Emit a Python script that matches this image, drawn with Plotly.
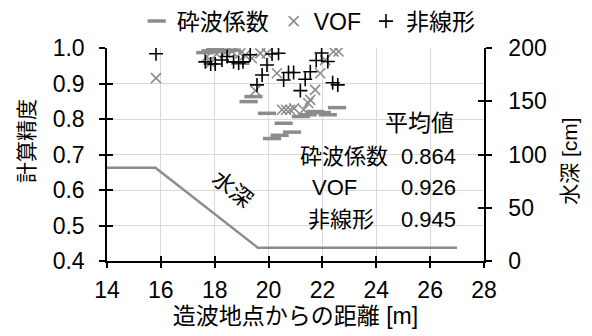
import plotly.graph_objects as go

# 計算精度の比較（造波地点からの距離ごと）
breaking_x = [17.65, 17.85, 18.02, 18.25, 18.45, 18.64, 18.95, 19.26, 19.44, 19.94,
              20.13, 20.41, 20.56, 20.87, 21.20, 21.45, 21.73, 21.98, 22.20, 22.54]
breaking_y = [0.987, 0.992, 0.996, 0.990, 0.992, 0.994, 0.957, 0.849, 0.863, 0.816,
              0.745, 0.754, 0.788, 0.763, 0.807, 0.812, 0.821, 0.818, 0.812, 0.832]

vof_x = [15.82, 17.71, 17.85, 18.08, 18.39, 18.64, 18.95, 19.13, 19.38, 19.51,
         19.69, 19.94, 20.31, 20.50, 20.65, 20.80, 20.95, 21.30, 21.47, 21.55,
         21.73, 21.92, 22.10, 22.41, 22.60]
vof_y = [0.915, 0.976, 0.958, 0.983, 0.987, 0.990, 0.985, 0.980, 0.971, 0.880,
         0.985, 0.985, 0.929, 0.826, 0.826, 0.826, 0.830, 0.826, 0.845, 0.854,
         0.882, 0.929, 0.966, 0.990, 0.990]

nonlinear_x = [15.82, 17.65, 17.85, 18.02, 18.27, 18.46, 18.70, 18.89, 19.05, 19.32,
               19.57, 19.76, 19.94, 20.13, 20.37, 20.56, 20.74, 20.93, 21.18, 21.36,
               21.55, 21.77, 21.97, 22.20, 22.38, 22.57]
nonlinear_y = [0.984, 0.961, 0.955, 0.955, 0.966, 0.976, 0.961, 0.958, 0.961, 0.981,
               0.896, 0.924, 0.952, 0.983, 0.985, 0.910, 0.931, 0.931, 0.880, 0.912,
               0.933, 0.965, 0.986, 0.962, 0.902, 0.896]

# 水深の断面
depth_x = [14.0, 15.8, 19.6, 27.0]
depth_cm = [87.5, 87.5, 12.5, 12.5]

series_names = ["砕波係数", "VOF", "非線形"]
mean_values = [0.864, 0.926, 0.945]

x_ticks = [14, 16, 18, 20, 22, 24, 26, 28]
y_ticks = [0.4, 0.5, 0.6, 0.7, 0.8, 0.9, 1.0]
y2_ticks = [0, 50, 100, 150, 200]

GRAY = "#8c8c8c"
FONT = "Liberation Sans, Arial, Noto Sans CJK JP, sans-serif"
FS = 23

fig = go.Figure()

fig.add_trace(go.Scatter(
    x=depth_x, y=depth_cm, mode="lines", yaxis="y2",
    line=dict(color=GRAY, width=2.5), showlegend=False, hoverinfo="skip"))

fig.add_trace(go.Scatter(
    x=breaking_x, y=breaking_y, mode="markers", name=series_names[0],
    marker=dict(symbol="line-ew", size=13, color=GRAY,
                line=dict(color=GRAY, width=3.5))))
fig.add_trace(go.Scatter(
    x=vof_x, y=vof_y, mode="markers", name=series_names[1],
    marker=dict(symbol="x-thin", size=10, color=GRAY,
                line=dict(color=GRAY, width=1.6))))
fig.add_trace(go.Scatter(
    x=nonlinear_x, y=nonlinear_y, mode="markers", name=series_names[2],
    marker=dict(symbol="cross-thin", size=10, color="black",
                line=dict(color="black", width=1.6))))

# inward tick marks, drawn by overlay axes so the ticks cross the axis lines
fig.add_trace(go.Scatter(x=[None], y=[None], xaxis="x3", yaxis="y3",
                         showlegend=False, hoverinfo="skip"))
fig.add_trace(go.Scatter(x=[None], y=[None], xaxis="x3", yaxis="y4",
                         showlegend=False, hoverinfo="skip"))

axis_common = dict(linecolor="black", linewidth=1.5, tickcolor="black",
                   tickwidth=1.5, tickfont=dict(family=FONT, size=FS, color="black"))

fig.update_layout(
    width=592, height=336,
    margin=dict(l=107, r=108, t=48, b=75, autoexpand=False),
    paper_bgcolor="white", plot_bgcolor="white",
    font=dict(family=FONT, size=FS, color="black"),
    xaxis=dict(range=[14, 28], tickvals=x_ticks, showline=True, ticks="outside",
               ticklen=5, ticklabelstandoff=3, showgrid=True, gridcolor="#d9d9d9",
               gridwidth=1, zeroline=False,
               title=dict(text="造波地点からの距離 [m]", font=dict(size=FS),
                          standoff=6),
               **axis_common),
    yaxis=dict(range=[0.4, 1.0], tickvals=y_ticks, tickformat=".1f", showline=True,
               ticks="outside", ticklen=6, ticklabelstandoff=10, showgrid=True,
               gridcolor="#d9d9d9", gridwidth=1, zeroline=False,
               **axis_common),
    yaxis2=dict(range=[0, 200], tickvals=y2_ticks, overlaying="y", side="right",
                showline=True, ticks="outside", ticklen=6, ticklabelstandoff=12,
                showgrid=False, zeroline=False,
                **axis_common),
    xaxis3=dict(range=[14, 28], tickvals=x_ticks, overlaying="x", anchor="y3",
                ticks="inside", ticklen=5, tickcolor="black", tickwidth=1.5,
                showticklabels=False, showgrid=False, zeroline=False, showline=False),
    yaxis3=dict(range=[0.4, 1.0], tickvals=y_ticks, overlaying="y", anchor="x3",
                side="left", ticks="inside", ticklen=6, tickcolor="black",
                tickwidth=1.5, showticklabels=False, showgrid=False,
                zeroline=False, showline=False),
    yaxis4=dict(range=[0, 200], tickvals=y2_ticks, overlaying="y", anchor="x3",
                side="right", ticks="inside", ticklen=6, tickcolor="black",
                tickwidth=1.5, showticklabels=False, showgrid=False,
                zeroline=False, showline=False),
    legend=dict(orientation="h", x=0.535, xanchor="center", y=1.126, yanchor="middle",
                font=dict(family=FONT, size=FS), itemwidth=30,
                bgcolor="rgba(0,0,0,0)", tracegroupgap=0),
    showlegend=True,
)

# y-axis titles
fig.add_annotation(x=-0.212, y=0.564, xref="paper", yref="paper", text="計算精度",
                   showarrow=False, textangle=-90, xanchor="center",
                   yanchor="middle", font=dict(size=21))
fig.add_annotation(x=1.228, y=0.470, xref="paper", yref="paper", text="水深 [cm]",
                   showarrow=False, textangle=-90, xanchor="center",
                   yanchor="middle", font=dict(size=21))

# 水深 label along the slope
fig.add_annotation(x=18.65, y=0.601, xref="x", yref="y", text="水深",
                   showarrow=False, textangle=38.5, xanchor="center",
                   yanchor="middle", font=dict(size=22))

# 平均値 table
fig.add_annotation(x=0.830, y=0.649, xref="paper", yref="paper", text="平均値",
                   showarrow=False, xanchor="center", yanchor="middle",
                   font=dict(size=FS))
row_y = [0.491, 0.343, 0.194]
label_x = [0.507, 0.538, 0.528]
for name, val, xx, yy in zip(series_names, mean_values, label_x, row_y):
    fig.add_annotation(x=xx, y=yy, xref="paper", yref="paper", text=name,
                       showarrow=False, xanchor="left", yanchor="middle",
                       font=dict(size=FS - 1))
    fig.add_annotation(x=0.931, y=yy, xref="paper", yref="paper",
                       text=f"{val:.3f}", showarrow=False, xanchor="right",
                       yanchor="middle", font=dict(size=FS - 1))

fig.write_html("out.html")
